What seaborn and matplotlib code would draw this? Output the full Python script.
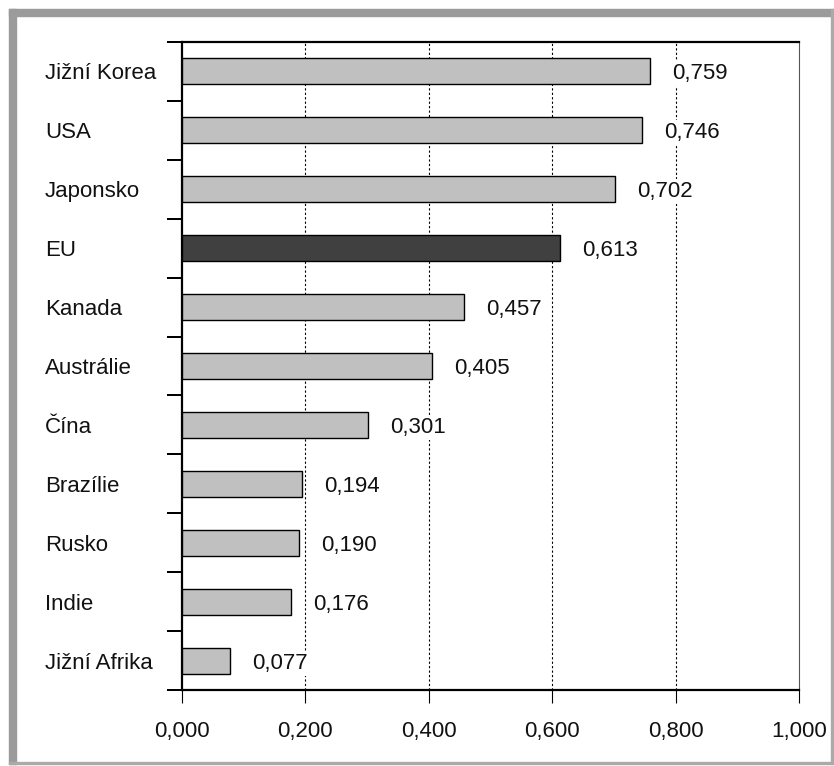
import numpy as np
import pandas as pd
import matplotlib.pyplot as plt
import seaborn as sns
from matplotlib.patches import Rectangle
from matplotlib.ticker import FuncFormatter

countries = ["Jižní Korea", "USA", "Japonsko", "EU", "Kanada", "Austrálie",
             "Čína", "Brazílie", "Rusko", "Indie", "Jižní Afrika"]
values = [0.759, 0.746, 0.702, 0.613, 0.457, 0.405, 0.301, 0.194, 0.190, 0.176, 0.077]
highlight = "EU"
xticks = [0.0, 0.2, 0.4, 0.6, 0.8, 1.0]


def czech(v):
    return f"{v:.3f}".replace(".", ",")


sns.set_style("white")
plt.rcParams["font.family"] = ["Liberation Sans", "DejaVu Sans"]
plt.rcParams["font.size"] = 16
plt.rcParams["text.color"] = "#111111"

W, H = 834, 766
fig = plt.figure(figsize=(W / 100, H / 100), dpi=100)
ax = fig.add_axes([182 / W, 76 / H, (799 - 182) / W, (690 - 42) / H])

df = pd.DataFrame({"country": countries, "value": values})
colors = {c: ("#404040" if c == highlight else "#c0c0c0") for c in countries}
sns.barplot(data=df, x="value", y="country", hue="country", palette=colors,
            legend=False, orient="h", width=0.44, edgecolor="black",
            linewidth=1, saturation=1, ax=ax, zorder=3)

ax.set_xlim(0, 1)
ax.set_ylim(10.5, -0.5)
ax.set_xlabel("")
ax.set_ylabel("")

# dotted gridlines
for x in xticks[1:-1]:
    ax.axvline(x, color="black", ls=(0, (2, 2)), lw=0.8, zorder=1)

# x axis
ax.set_xticks(xticks)
ax.xaxis.set_major_formatter(FuncFormatter(lambda v, p: czech(v)))
ax.tick_params(axis="x", direction="out", length=9.4, width=0.8,
               pad=13, color="black", bottom=True, labelcolor="#111111")

# y axis: labels at centers, ticks at boundaries
ax.set_yticks(range(len(countries)))
ax.set_yticklabels(countries)
for lbl in ax.get_yticklabels():
    lbl.set_horizontalalignment("left")
ax.tick_params(axis="y", which="major", length=0, pad=98.6, left=True,
               labelcolor="#111111")
ax.set_yticks(np.arange(-0.5, len(countries), 1.0), minor=True)
ax.tick_params(axis="y", which="minor", direction="out", length=10.8,
               width=1.44, color="black", left=True)

for s in ["left", "top", "bottom"]:
    ax.spines[s].set_color("black")
    ax.spines[s].set_linewidth(1.6)
ax.spines["right"].set_color("#555555")
ax.spines["right"].set_linewidth(0.8)

# value labels (white box hides the gridline behind the text)
for i, v in enumerate(values):
    ax.annotate(czech(v), xy=(v, i), xytext=(16, 0),
                textcoords="offset points", va="center_baseline", ha="left",
                bbox=dict(fc="white", ec="none", pad=1.5), zorder=4)

# figure frame
gray = "#9b9b9b"
fig.patches.append(Rectangle((9 / W, 1 - 16 / H), (833 - 9) / W, 7 / H,
                             transform=fig.transFigure, color=gray))
fig.patches.append(Rectangle((9 / W, 1 - 764 / H), 7 / W, (764 - 9) / H,
                             transform=fig.transFigure, color=gray))
fig.patches.append(Rectangle((831 / W, 1 - 764 / H), 2 / W, (764 - 9) / H,
                             transform=fig.transFigure, color="#aaaaaa"))
fig.patches.append(Rectangle((9 / W, 1 - 764 / H), (833 - 9) / W, 2 / H,
                             transform=fig.transFigure, color="#aaaaaa"))

fig.savefig("out.png", dpi=100)
